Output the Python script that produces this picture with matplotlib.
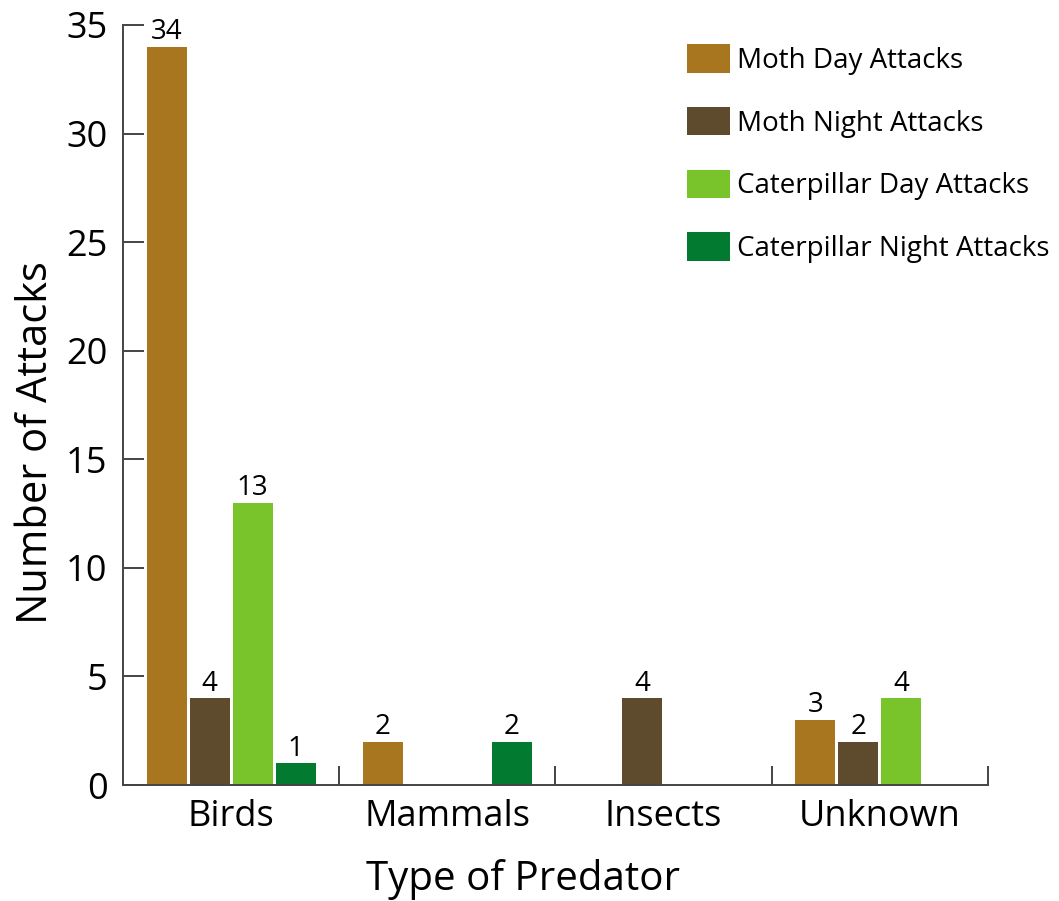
import matplotlib
matplotlib.use("Agg")
import matplotlib.pyplot as plt
import numpy as np

# Predator attacks on moth and caterpillar models
predators = ["Birds", "Mammals", "Insects", "Unknown"]
series_names = ["Moth Day Attacks", "Moth Night Attacks",
                "Caterpillar Day Attacks", "Caterpillar Night Attacks"]
moth_day = [34, 2, 0, 3]
moth_night = [4, 0, 4, 2]
caterpillar_day = [13, 0, 0, 4]
caterpillar_night = [1, 2, 0, 0]
y_ticks = [0, 5, 10, 15, 20, 25, 30, 35]

series_values = [moth_day, moth_night, caterpillar_day, caterpillar_night]
colors = ["#A8761E", "#5E4A2C", "#78C42A", "#027A30"]

plt.rcParams["font.family"] = ["Open Sans", "DejaVu Sans"]

fig = plt.figure(figsize=(10.59, 9.01), dpi=100)
ax = fig.add_axes([0.1161, 0.1287, 0.8168, 0.8436])

x = np.arange(len(predators))
slot = 0.199
bar_w = 0.185
offsets = (np.arange(len(series_names)) - 1.5) * slot

for vals, name, col, off in zip(series_values, series_names, colors, offsets):
    vals = np.asarray(vals, dtype=float)
    present = vals > 0
    bars = ax.bar(x[present] + off, vals[present], width=bar_w, color=col,
                  label=name, zorder=2)
    for b, v in zip(bars, vals[present]):
        ax.text(b.get_x() + b.get_width() / 2, v + 0.02, f"{int(v)}",
                ha="center", va="bottom", fontsize=20, color="black")

ax.set_xlim(-0.5, len(predators) - 0.5)
ax.set_ylim(0, 35)

spine_col = "#444444"
for s in ["top", "right"]:
    ax.spines[s].set_visible(False)
for s in ["left", "bottom"]:
    ax.spines[s].set_color(spine_col)
    ax.spines[s].set_linewidth(1.4)

ax.set_yticks(y_ticks)
ax.tick_params(axis="y", direction="in", length=15, width=1.4, color=spine_col,
               labelsize=26, pad=11)

# Category boundaries as inward ticks, names as unmarked minor ticks
ax.set_xticks(np.arange(len(predators)) + 0.5)
ax.set_xticklabels([])
ax.set_xticks(x, minor=True)
ax.set_xticklabels(predators, minor=True)
ax.tick_params(axis="x", which="major", direction="in", length=14, width=1.4,
               color=spine_col)
ax.tick_params(axis="x", which="minor", length=0, labelsize=26, pad=10)

ax.set_xlabel("Type of Predator", fontsize=29)
ax.xaxis.set_label_coords(0.462, -0.097)
ax.set_ylabel("Number of Attacks", fontsize=30)
ax.yaxis.set_label_coords(-0.076, 0.45)

ax.legend(loc="upper left", bbox_to_anchor=(0.63, 1.0), frameon=False,
          fontsize=20, handlelength=1.55, handleheight=1.2, handletextpad=0.25,
          labelspacing=1.15, borderaxespad=0.3)

fig.savefig("out.png", dpi=100)
